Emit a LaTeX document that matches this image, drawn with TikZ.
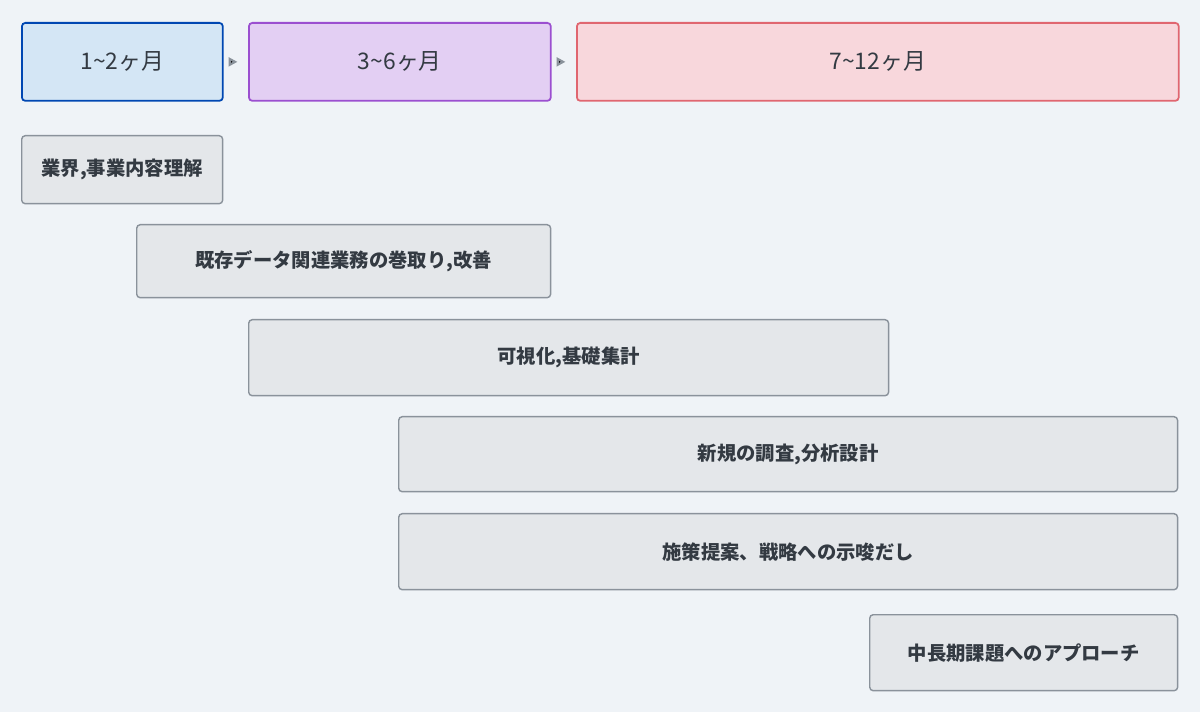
\documentclass[tikz,border=0pt]{standalone}
\usepackage{fontspec}
\setmainfont{Noto Sans CJK JP}
\usetikzlibrary{arrows.meta}
\definecolor{bgc}{HTML}{EFF3F7}
\definecolor{taskfill}{HTML}{E4E7EA}
\definecolor{taskdraw}{HTML}{8A929B}
\definecolor{txt}{HTML}{333A42}
\tikzset{
  phase/.style={draw,rounded corners=2pt,line width=1pt,anchor=north west,
    minimum height=1.56cm,inner sep=0pt,font=\fontsize{13}{15}\selectfont,text=txt},
  task/.style={draw=taskdraw,fill=taskfill,rounded corners=2pt,line width=0.8pt,
    anchor=north west,inner sep=0pt,font=\bfseries\fontsize{11}{13}\selectfont,text=txt},
}
\begin{document}
\begin{tikzpicture}[x=0.02cm,y=-0.02cm]
    \fill[bgc] (0,0) rectangle (1200,712);
    \useasboundingbox (0,0) rectangle (1200,712);
    % phases
    \node[phase,draw=blue!60!cyan!70!black,fill={rgb,255:red,212;green,230;blue,245},minimum width=4.02cm] (p_12) at (21,22) {1\textasciitilde2ヶ月};
    \node[phase,draw={rgb,255:red,155;green,79;blue,208},fill={rgb,255:red,227;green,207;blue,243},minimum width=6.04cm] (p_36) at (248,22) {3\textasciitilde6ヶ月};
    \node[phase,draw={rgb,255:red,224;green,102;blue,112},fill={rgb,255:red,248;green,215;blue,220},minimum width=12.04cm] (p_712) at (576,22) {7\textasciitilde12ヶ月};
    \path[-{Triangle[length=5pt,width=5pt]},draw=taskdraw,line width=1.2pt,shorten <=4pt,shorten >=6pt]
    (p_12) edge (p_36)
    (p_36) edge (p_712);
    % tasks
    \node[task,minimum width=4.02cm,minimum height=1.36cm] (t_biz) at (21,135) {業界,事業内容理解};
    \node[task,minimum width=8.28cm,minimum height=1.46cm] (t_data) at (136,224) {既存データ関連業務の巻取り,改善};
    \node[task,minimum width=12.8cm,minimum height=1.52cm] (t_vis) at (248,319) {可視化,基礎集計};
    \node[task,minimum width=15.58cm,minimum height=1.5cm] (t_new) at (398,416) {新規の調査,分析設計};
    \node[task,minimum width=15.58cm,minimum height=1.52cm] (t_plan) at (398,513) {施策提案、戦略への示唆だし};
    \node[task,minimum width=6.16cm,minimum height=1.52cm] (t_long) at (869,614) {中長期課題へのアプローチ};
\end{tikzpicture}
\end{document}
